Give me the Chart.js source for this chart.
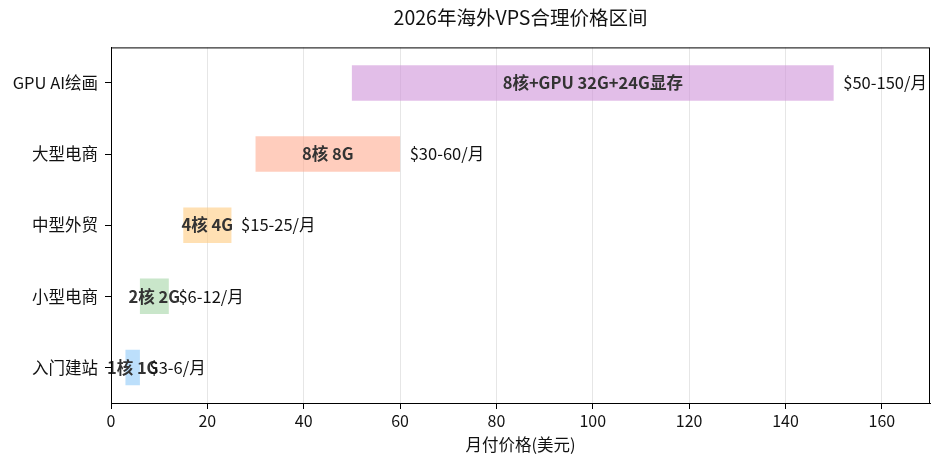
<!DOCTYPE html>
<html>
<head>
<meta charset="utf-8">
<script src="https://cdn.jsdelivr.net/npm/chart.js@4/dist/chart.umd.min.js"></script>
<style>
  html, body { margin: 0; padding: 0; background: #fff; }
  #wrap { width: 940px; height: 467px; }
</style>
</head>
<body>
<div id="wrap"><canvas id="chart" width="940" height="467"></canvas></div>
<script>
const FONT = '"Noto Sans CJK SC", "Noto Sans", sans-serif';

const categories = ['GPU AI绘画', '大型电商', '中型外贸', '小型电商', '入门建站'];
const priceLow = [50, 30, 15, 6, 3];
const priceHigh = [150, 60, 25, 12, 6];
const specLabels = ['8核+GPU 32G+24G显存', '8核 8G', '4核 4G', '2核 2G', '1核 1G'];
const priceLabels = ['$50-150/月', '$30-60/月', '$15-25/月', '$6-12/月', '$3-6/月'];
const colours = [
    'rgba(206,147,216,0.6)',
    'rgba(255,171,145,0.6)',
    'rgba(255,204,128,0.6)',
    'rgba(165,214,167,0.6)',
    'rgba(144,202,249,0.6)'
];

// labels inside and after each bar, plus the black frame
const barText = {
    id: 'barText',
    afterDatasetsDraw(chart) {
        const ctx = chart.ctx;
        const x = chart.scales.x;
        const meta = chart.getDatasetMeta(0);
        ctx.save();
        ctx.textBaseline = 'middle';
        meta.data.forEach((bar, i) => {
            const y = bar.y;
            ctx.fillStyle = '#333';
            ctx.font = 'bold 16.5px ' + FONT;
            ctx.textAlign = 'center';
            ctx.fillText(specLabels[i], x.getPixelForValue((priceLow[i] + priceHigh[i]) / 2), y);
            ctx.fillStyle = '#111';
            ctx.font = '16.5px ' + FONT;
            ctx.textAlign = 'left';
            ctx.fillText(priceLabels[i], x.getPixelForValue(priceHigh[i] + 2), y);
        });
        const a = chart.chartArea;
        ctx.strokeStyle = '#000';
        ctx.lineWidth = 1;
        ctx.strokeRect(a.left + 0.5, a.top + 0.5, a.right - a.left - 1, a.bottom - a.top);
        ctx.restore();
    }
};

const ctx = document.getElementById('chart').getContext('2d');
new Chart(ctx, {
    type: 'bar',
    data: {
        labels: categories,
        datasets: [{
            data: priceLow.map((lo, i) => [lo, priceHigh[i]]),
            backgroundColor: colours,
            borderWidth: 0,
            barPercentage: 0.5,
            categoryPercentage: 1.0
        }]
    },
    options: {
        indexAxis: 'y',
        responsive: false,
        animation: false,
        layout: { padding: { left: 0, right: 10, top: 0, bottom: 0 } },
        plugins: {
            legend: { display: false },
            tooltip: { enabled: false },
            title: {
                display: true,
                text: '2026年海外VPS合理价格区间',
                fullSize: false,
                color: '#111',
                font: { family: FONT, size: 19.5, weight: 'normal' },
                padding: { top: 6, bottom: 18 }
            }
        },
        scales: {
            x: {
                min: 0,
                max: 170,
                afterBuildTicks: s => { s.ticks = s.ticks.filter(t => t.value <= 160); },
                ticks: {
                    stepSize: 20,
                    color: '#111',
                    font: { family: FONT, size: 16 },
                    padding: 2
                },
                grid: {
                    color: '#e6e6e6',
                    tickColor: '#000',
                    tickLength: 6
                },
                border: { color: '#000' },
                title: {
                    display: true,
                    text: '月付价格(美元)',
                    color: '#111',
                    font: { family: FONT, size: 16.5 },
                    padding: { top: 0, bottom: 12 }
                },
                afterFit: s => { s.height = 64; }
            },
            y: {
                ticks: {
                    color: '#111',
                    font: { family: FONT, size: 16.5 },
                    padding: 7
                },
                grid: {
                    offset: false,
                    drawOnChartArea: false,
                    tickColor: '#000',
                    tickLength: 6
                },
                border: { color: '#000' },
                afterFit: s => { s.width = 111; }
            }
        }
    },
    plugins: [barText]
});
</script>
</body>
</html>
